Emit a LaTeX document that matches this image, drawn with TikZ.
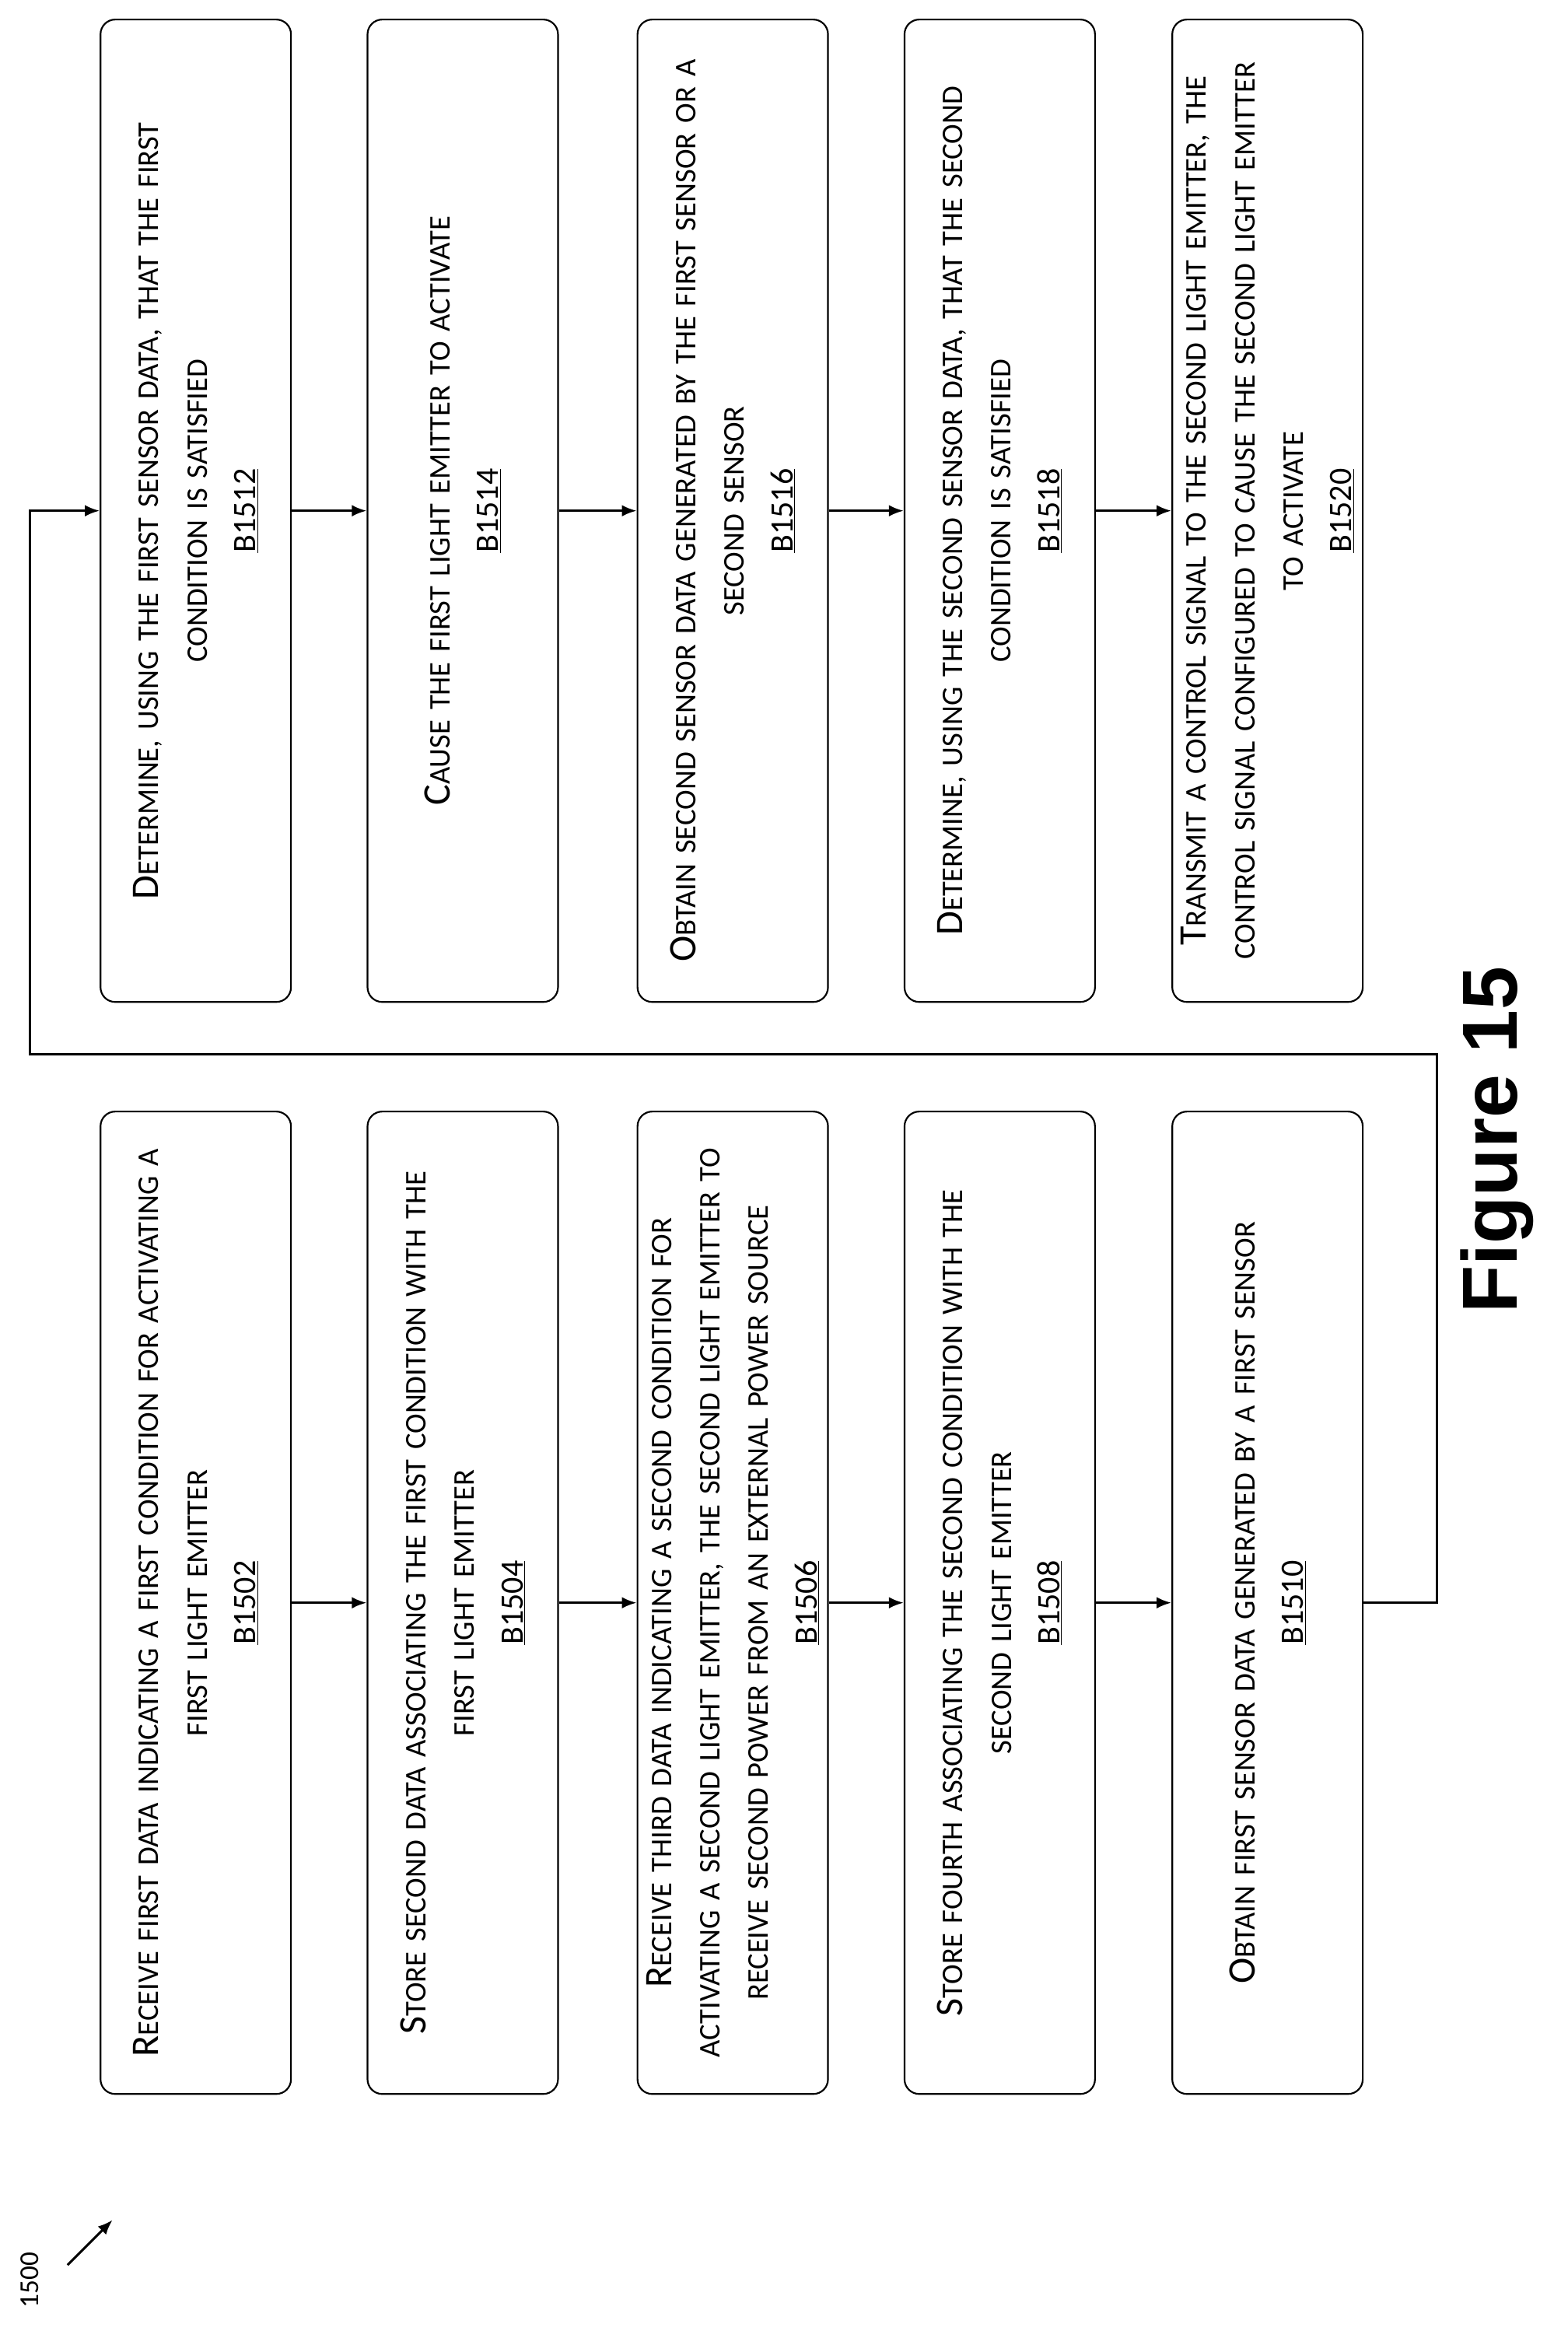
\documentclass[tikz,border=0pt]{standalone}
\usepackage{fontspec}
\setmainfont{Carlito}
\newfontfamily\figfont{Liberation Sans}
\usetikzlibrary{arrows.meta}
\newcommand\initial[1]{{\fontsize{37}{46}\selectfont #1}}
\newcommand\blk[1]{{\fontsize{31}{46}\selectfont\underline{#1}}}
\begin{document}
\begin{tikzpicture}[x=0.05cm,y=0.05cm,
                    line width=1.6pt,
                    >={Latex[length=14pt,width=11pt]},
                    ]
    \tikzstyle{stepbox}=[draw,rounded corners=14pt,rotate=90,minimum width=32.75cm,minimum height=6.35cm,
                         text width=31.5cm,align=center,font=\fontsize{28.5}{46}\selectfont]
    \tikzstyle{flow}=[->,line width=2.2pt]

    \useasboundingbox (0,0) rectangle (1045,-1568);

    \node[stepbox] (b1502) at (130.5,-1068.5) {\initial{R}ECEIVE FIRST DATA INDICATING A FIRST CONDITION FOR ACTIVATING A\\ FIRST LIGHT EMITTER\\ \blk{B1502}};
    \node[stepbox] (b1504) at (308.5,-1068.5) {\initial{S}TORE SECOND DATA ASSOCIATING THE FIRST CONDITION WITH THE\\ FIRST LIGHT EMITTER\\ \blk{B1504}};
    \node[stepbox] (b1506) at (488.5,-1068.5) {\initial{R}ECEIVE THIRD DATA INDICATING A SECOND CONDITION FOR\\ ACTIVATING A SECOND LIGHT EMITTER, THE SECOND LIGHT EMITTER TO\\ RECEIVE SECOND POWER FROM AN EXTERNAL POWER SOURCE\\ \blk{B1506}};
    \node[stepbox] (b1508) at (666.5,-1068.5) {\initial{S}TORE FOURTH ASSOCIATING THE SECOND CONDITION WITH THE\\ SECOND LIGHT EMITTER\\ \blk{B1508}};
    \node[stepbox] (b1510) at (845,-1068.5) {\initial{O}BTAIN FIRST SENSOR DATA GENERATED BY A FIRST SENSOR\\ \blk{B1510}};

    \node[stepbox] (b1512) at (130.5,-340.5) {\initial{D}ETERMINE, USING THE FIRST SENSOR DATA, THAT THE FIRST\\ CONDITION IS SATISFIED\\ \blk{B1512}};
    \node[stepbox] (b1514) at (308.5,-340.5) {\initial{C}AUSE THE FIRST LIGHT EMITTER TO ACTIVATE\\ \blk{B1514}};
    \node[stepbox] (b1516) at (488.5,-340.5) {\initial{O}BTAIN SECOND SENSOR DATA GENERATED BY THE FIRST SENSOR OR A\\ SECOND SENSOR\\ \blk{B1516}};
    \node[stepbox] (b1518) at (666.5,-340.5) {\initial{D}ETERMINE, USING THE SECOND SENSOR DATA, THAT THE SECOND\\ CONDITION IS SATISFIED\\ \blk{B1518}};
    \node[stepbox] (b1520) at (845,-340.5) {\initial{T}RANSMIT A CONTROL SIGNAL TO THE SECOND LIGHT EMITTER, THE\\ CONTROL SIGNAL CONFIGURED TO CAUSE THE SECOND LIGHT EMITTER\\ TO ACTIVATE\\ \blk{B1520}};

    % arrows between the steps
    \draw[flow] (b1502.south) -- (b1504.north);
    \draw[flow] (b1504.south) -- (b1506.north);
    \draw[flow] (b1506.south) -- (b1508.north);
    \draw[flow] (b1508.south) -- (b1510.north);
    \draw[flow] (b1512.south) -- (b1514.north);
    \draw[flow] (b1514.south) -- (b1516.north);
    \draw[flow] (b1516.south) -- (b1518.north);
    \draw[flow] (b1518.south) -- (b1520.north);

    % loop back to the second column
    \coordinate (loopa) at (958,-703);
    \coordinate (loopb) at (20,-703);
    \draw[flow] (b1510.south) -| (loopa) -- (loopb) |- (b1512.north);

    \node[rotate=90,font=\figfont\bfseries\fontsize{74}{90}\selectfont] (fig) at (998,-760) {Figure 15};
    \node[rotate=90,font=\fontsize{26}{30}\selectfont] (ref) at (20,-1520) {1500};
    \coordinate (reftip) at (75,-1480);
    \draw[->,line width=2.2pt] (45,-1510) -- (reftip);
\end{tikzpicture}
\end{document}
